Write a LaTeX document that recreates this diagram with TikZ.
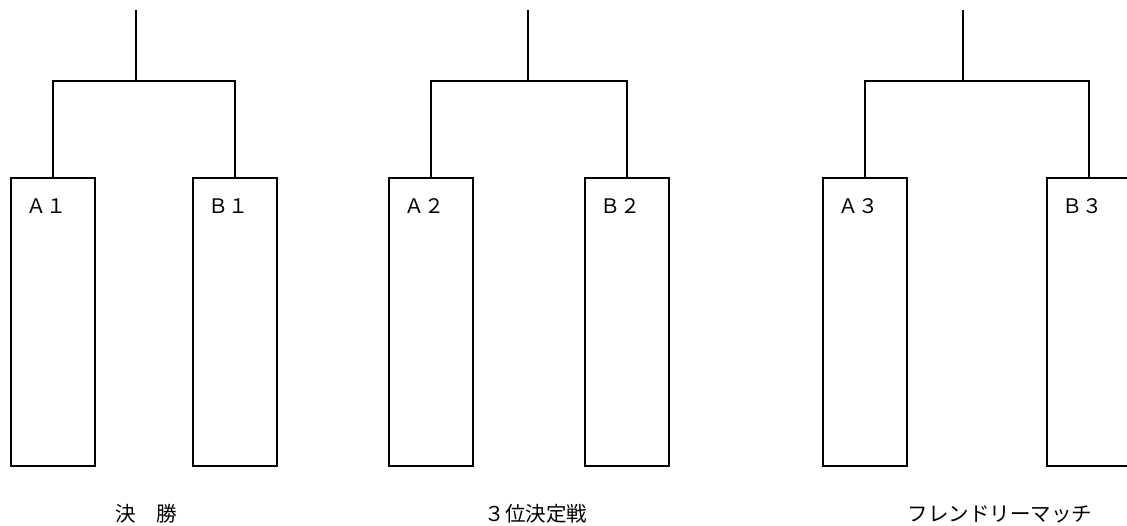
\documentclass[tikz,border=0pt]{standalone}
\usepackage{fontspec}
\newfontfamily\jfont{Noto Sans CJK JP}
\begin{document}
\begin{tikzpicture}[x=1pt,y=-1pt,line width=1.6pt,
		team/.style={draw,minimum width=84pt,minimum height=288pt,inner sep=0pt,anchor=north west},
		tag/.style={anchor=west,inner sep=0pt,font=\jfont\fontsize{20}{20}\selectfont},
		title/.style={inner sep=0pt,font=\jfont\fontsize{20.5}{20.5}\selectfont}]
	\useasboundingbox (0,0) rectangle (1127,526);
	% first bracket
	\node[team] (a1) at (10,177) {};
	\node[team] (b1) at (192,177) {};
	\coordinate (j1) at (136,81);
	\coordinate (t1) at (136,10);
	\draw (a1.north) |- (j1) -| (b1.north);
	\draw (j1) -- (t1);
	\node[tag] (la1) at (26,206) {Ａ１};
	\node[tag] (lb1) at (208,206) {Ｂ１};
	\node[title] (g1) at (146,514) {決　勝};
	% second bracket
	\node[team] (a2) at (388,177) {};
	\node[team] (b2) at (584,177) {};
	\coordinate (j2) at (528,81);
	\coordinate (t2) at (528,10);
	\draw (a2.north) |- (j2) -| (b2.north);
	\draw (j2) -- (t2);
	\node[tag] (la2) at (404,206) {Ａ２};
	\node[tag] (lb2) at (600,206) {Ｂ２};
	\node[title] (g2) at (536,514) {３位決定戦};
	% third bracket
	\node[team] (a3) at (822,177) {};
	\node[team] (b3) at (1046,177) {};
	\coordinate (j3) at (963,81);
	\coordinate (t3) at (963,10);
	\draw (a3.north) |- (j3) -| (b3.north);
	\draw (j3) -- (t3);
	\node[tag] (la3) at (838,206) {Ａ３};
	\node[tag] (lb3) at (1062,206) {Ｂ３};
	\node[title] (g3) at (1000,514) {フレンドリーマッチ};
\end{tikzpicture}
\end{document}
